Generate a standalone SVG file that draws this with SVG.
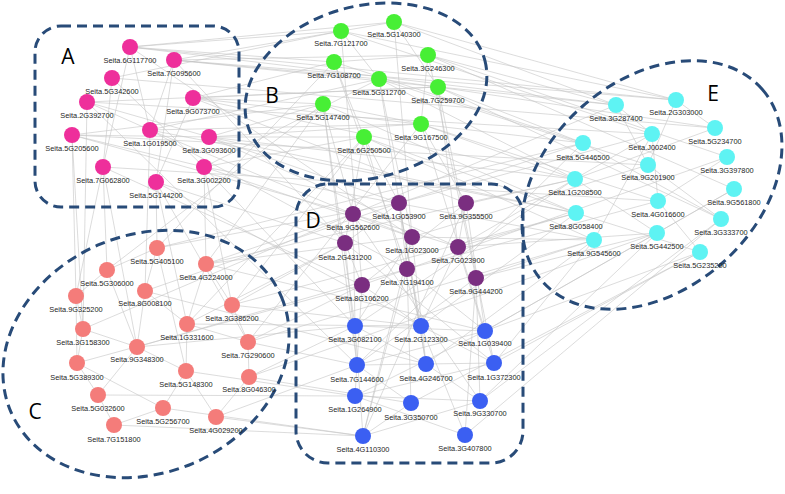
<svg xmlns="http://www.w3.org/2000/svg" width="785" height="494" viewBox="0 0 785 494">
<style>
.e{stroke:#c4c4c4;stroke-width:0.6;fill:none}
.grp{fill:none;stroke:#284b78;stroke-width:3;stroke-dasharray:10 6}
.pa{fill:#ee2f9b}.pb{fill:#47ef35}.pe{fill:#5ef3f3}.pd{fill:#7a2e80}.pf{fill:#3b5ff2}.pc{fill:#f47c7a}
text.l{font-family:"Liberation Sans",Arial,sans-serif;font-size:7.4px;fill:#1e1e1e;text-anchor:middle}
text.g{font-family:"Open Sans","Liberation Sans",sans-serif;font-size:21px;fill:#000;text-anchor:middle}
</style>
<rect width="785" height="494" fill="#fff"/>
<g id="connectors">
<path class="e" d="M130 47L150 130"/><path class="e" d="M174 60L150 130"/><path class="e" d="M112 78L103 167"/><path class="e" d="M87 102L209 137"/><path class="e" d="M72 135L204 167"/><path class="e" d="M193 98L156 182"/><path class="e" d="M174 60L156 182"/><path class="e" d="M130 47L103 167"/><path class="e" d="M87 102L150 130"/><path class="e" d="M72 135L209 137"/><path class="e" d="M112 78L204 167"/>
<path class="e" d="M130 47L341 31"/><path class="e" d="M130 47L334 62"/><path class="e" d="M174 60L394 22"/><path class="e" d="M174 60L379 79"/><path class="e" d="M193 98L323 104"/><path class="e" d="M193 98L334 62"/><path class="e" d="M150 130L379 79"/><path class="e" d="M209 137L323 104"/><path class="e" d="M209 137L364 137"/><path class="e" d="M204 167L364 137"/><path class="e" d="M87 102L438 87"/><path class="e" d="M72 135L323 104"/><path class="e" d="M112 78L341 31"/><path class="e" d="M150 130L421 124"/><path class="e" d="M204 167L379 79"/>
<path class="e" d="M130 47L616 105"/><path class="e" d="M174 60L676 100"/><path class="e" d="M193 98L583 143"/><path class="e" d="M87 102L652 134"/><path class="e" d="M209 137L575 179"/><path class="e" d="M72 135L648 165"/><path class="e" d="M150 130L576 213"/><path class="e" d="M204 167L594 240"/><path class="e" d="M112 78L715 128"/><path class="e" d="M103 167L658 201"/>
<path class="e" d="M150 130L353 214"/><path class="e" d="M209 137L399 203"/><path class="e" d="M204 167L412 237"/><path class="e" d="M156 182L345 243"/><path class="e" d="M103 167L362 285"/><path class="e" d="M72 135L353 214"/><path class="e" d="M193 98L466 203"/><path class="e" d="M204 167L355 326"/><path class="e" d="M156 182L421 326"/><path class="e" d="M150 130L407 269"/><path class="e" d="M209 137L458 247"/><path class="e" d="M87 102L357 365"/><path class="e" d="M130 47L412 237"/><path class="e" d="M174 60L345 243"/>
<path class="e" d="M103 167L107 270"/><path class="e" d="M156 182L157 248"/><path class="e" d="M72 135L76 296"/><path class="e" d="M204 167L206 264"/><path class="e" d="M150 130L145 291"/><path class="e" d="M103 167L137 347"/><path class="e" d="M156 182L187 324"/><path class="e" d="M72 135L83 329"/>
<path class="e" d="M341 31L379 79"/><path class="e" d="M334 62L364 137"/><path class="e" d="M428 55L421 124"/><path class="e" d="M394 22L438 87"/><path class="e" d="M323 104L421 124"/><path class="e" d="M379 79L438 87"/><path class="e" d="M334 62L428 55"/>
<path class="e" d="M394 22L676 100"/><path class="e" d="M428 55L616 105"/><path class="e" d="M438 87L583 143"/><path class="e" d="M421 124L575 179"/><path class="e" d="M379 79L648 165"/><path class="e" d="M341 31L652 134"/><path class="e" d="M323 104L576 213"/><path class="e" d="M364 137L594 240"/><path class="e" d="M438 87L715 128"/><path class="e" d="M428 55L727 157"/><path class="e" d="M421 124L658 201"/>
<path class="e" d="M323 104L353 214"/><path class="e" d="M364 137L399 203"/><path class="e" d="M421 124L466 203"/><path class="e" d="M438 87L458 247"/><path class="e" d="M379 79L412 237"/><path class="e" d="M364 137L345 243"/><path class="e" d="M334 62L407 269"/><path class="e" d="M323 104L355 326"/><path class="e" d="M421 124L485 331"/><path class="e" d="M364 137L421 326"/><path class="e" d="M428 55L476 278"/><path class="e" d="M438 87L494 363"/><path class="e" d="M341 31L362 285"/><path class="e" d="M394 22L412 237"/><path class="e" d="M379 79L426 364"/><path class="e" d="M323 104L357 365"/>
<path class="e" d="M323 104L206 264"/><path class="e" d="M364 137L232 305"/><path class="e" d="M334 62L157 248"/><path class="e" d="M421 124L248 342"/><path class="e" d="M364 137L187 324"/>
<path class="e" d="M616 105L648 165"/><path class="e" d="M676 100L715 128"/><path class="e" d="M652 134L658 201"/><path class="e" d="M583 143L721 219"/><path class="e" d="M575 179L657 233"/><path class="e" d="M648 165L721 219"/><path class="e" d="M576 213L700 252"/><path class="e" d="M727 157L658 201"/><path class="e" d="M734 189L657 233"/><path class="e" d="M715 128L575 179"/><path class="e" d="M652 134L594 240"/><path class="e" d="M676 100L648 165"/><path class="e" d="M616 105L652 134"/><path class="e" d="M658 201L700 252"/>
<path class="e" d="M575 179L466 203"/><path class="e" d="M576 213L458 247"/><path class="e" d="M594 240L476 278"/><path class="e" d="M583 143L399 203"/><path class="e" d="M648 165L412 237"/><path class="e" d="M657 233L485 331"/><path class="e" d="M700 252L494 363"/><path class="e" d="M721 219L480 401"/><path class="e" d="M658 201L407 269"/><path class="e" d="M576 213L421 326"/><path class="e" d="M594 240L426 364"/><path class="e" d="M575 179L355 326"/><path class="e" d="M616 105L353 214"/><path class="e" d="M652 134L458 247"/><path class="e" d="M734 189L485 331"/><path class="e" d="M657 233L476 278"/><path class="e" d="M727 157L362 285"/><path class="e" d="M721 219L465 435"/><path class="e" d="M700 252L411 403"/><path class="e" d="M583 143L357 365"/>
<path class="e" d="M575 179L206 264"/><path class="e" d="M576 213L232 305"/><path class="e" d="M594 240L248 342"/><path class="e" d="M583 143L157 248"/><path class="e" d="M657 233L249 377"/>
<path class="e" d="M353 214L412 237"/><path class="e" d="M399 203L407 269"/><path class="e" d="M466 203L458 247"/><path class="e" d="M345 243L362 285"/><path class="e" d="M353 214L355 326"/><path class="e" d="M399 203L421 326"/><path class="e" d="M466 203L485 331"/><path class="e" d="M412 237L426 364"/><path class="e" d="M345 243L357 365"/><path class="e" d="M458 247L494 363"/><path class="e" d="M407 269L411 403"/><path class="e" d="M476 278L480 401"/><path class="e" d="M362 285L355 396"/><path class="e" d="M399 203L426 364"/><path class="e" d="M412 237L355 326"/><path class="e" d="M458 247L421 326"/><path class="e" d="M407 269L363 436"/><path class="e" d="M476 278L465 435"/><path class="e" d="M362 285L421 326"/><path class="e" d="M355 326L426 364"/><path class="e" d="M421 326L494 363"/><path class="e" d="M485 331L357 365"/><path class="e" d="M357 365L411 403"/><path class="e" d="M426 364L480 401"/><path class="e" d="M494 363L355 396"/><path class="e" d="M355 396L465 435"/><path class="e" d="M411 403L363 436"/><path class="e" d="M480 401L363 436"/><path class="e" d="M355 326L363 436"/><path class="e" d="M421 326L465 435"/><path class="e" d="M485 331L355 396"/><path class="e" d="M466 203L363 436"/><path class="e" d="M353 214L480 401"/><path class="e" d="M345 243L494 363"/><path class="e" d="M476 278L357 365"/><path class="e" d="M412 237L363 436"/><path class="e" d="M407 269L485 331"/><path class="e" d="M399 203L345 243"/><path class="e" d="M466 203L362 285"/><path class="e" d="M458 247L353 214"/><path class="e" d="M355 326L485 331"/><path class="e" d="M357 365L494 363"/><path class="e" d="M355 396L480 401"/>
<path class="e" d="M206 264L353 214"/><path class="e" d="M232 305L345 243"/><path class="e" d="M248 342L362 285"/><path class="e" d="M249 377L355 326"/><path class="e" d="M216 417L357 365"/><path class="e" d="M186 371L355 396"/><path class="e" d="M187 324L345 243"/><path class="e" d="M163 408L363 436"/><path class="e" d="M145 291L399 203"/><path class="e" d="M157 248L399 203"/><path class="e" d="M137 347L355 326"/><path class="e" d="M249 377L411 403"/><path class="e" d="M248 342L357 365"/><path class="e" d="M232 305L421 326"/><path class="e" d="M216 417L363 436"/><path class="e" d="M206 264L485 331"/><path class="e" d="M114 425L363 436"/><path class="e" d="M98 395L355 396"/><path class="e" d="M77 363L362 285"/><path class="e" d="M83 329L353 214"/>
<path class="e" d="M157 248L145 291"/><path class="e" d="M206 264L232 305"/><path class="e" d="M107 270L76 296"/><path class="e" d="M145 291L137 347"/><path class="e" d="M76 296L83 329"/><path class="e" d="M187 324L186 371"/><path class="e" d="M137 347L98 395"/><path class="e" d="M248 342L249 377"/><path class="e" d="M77 363L98 395"/><path class="e" d="M186 371L163 408"/><path class="e" d="M249 377L216 417"/><path class="e" d="M98 395L114 425"/><path class="e" d="M107 270L137 347"/><path class="e" d="M83 329L77 363"/><path class="e" d="M145 291L187 324"/><path class="e" d="M137 347L186 371"/><path class="e" d="M163 408L114 425"/><path class="e" d="M232 305L248 342"/><path class="e" d="M187 324L248 342"/><path class="e" d="M77 363L163 408"/><path class="e" d="M157 248L107 270"/><path class="e" d="M206 264L187 324"/><path class="e" d="M83 329L137 347"/><path class="e" d="M186 371L216 417"/><path class="e" d="M76 296L77 363"/><path class="e" d="M157 248L186 371"/>
<path class="e" d="M130 47L394 22"/><path class="e" d="M174 60L428 55"/><path class="e" d="M193 98L438 87"/><path class="e" d="M209 137L421 124"/><path class="e" d="M174 60L616 105"/><path class="e" d="M130 47L676 100"/><path class="e" d="M193 98L575 179"/><path class="e" d="M209 137L576 213"/><path class="e" d="M394 22L616 105"/><path class="e" d="M341 31L676 100"/><path class="e" d="M334 62L583 143"/><path class="e" d="M379 79L575 179"/><path class="e" d="M364 137L576 213"/><path class="e" d="M438 87L721 219"/><path class="e" d="M428 55L734 189"/><path class="e" d="M399 203L652 134"/><path class="e" d="M412 237L594 240"/><path class="e" d="M458 247L657 233"/><path class="e" d="M485 331L700 252"/><path class="e" d="M494 363L594 240"/><path class="e" d="M480 401L657 233"/><path class="e" d="M145 291L426 364"/><path class="e" d="M187 324L421 326"/><path class="e" d="M206 264L412 237"/><path class="e" d="M137 347L407 269"/><path class="e" d="M107 270L323 104"/><path class="e" d="M76 296L103 167"/><path class="e" d="M83 329L87 102"/><path class="e" d="M204 167L232 305"/><path class="e" d="M156 182L248 342"/>
</g>
<g id="groups">
<g id="groupA"><rect class="grp" x="35" y="26" width="204" height="181" rx="26"/><text class="g" x="68" y="64">A</text></g>
<g id="groupB"><ellipse class="grp" cx="366" cy="92" rx="123" ry="86" transform="rotate(-15 366 92)"/><text class="g" x="272" y="103">B</text></g>
<g id="groupC"><ellipse class="grp" cx="146" cy="354" rx="147" ry="119" transform="rotate(-23 146 354)"/><text class="g" x="35" y="419">C</text></g>
<g id="groupD"><rect class="grp" x="296" y="184" width="227" height="279" rx="32"/><text class="g" x="313" y="228">D</text></g>
<g id="groupE"><ellipse class="grp" cx="652" cy="185" rx="146" ry="105" transform="rotate(-41 652 185)"/><text class="g" x="713" y="101">E</text></g>
</g>
<g id="nodes">
<g id="n_6G117700"><circle class="pa" cx="130" cy="47" r="8"/><text class="l" x="130" y="63">Seita.6G117700</text></g>
<g id="n_7G095600"><circle class="pa" cx="174" cy="60" r="8"/><text class="l" x="174" y="76">Seita.7G095600</text></g>
<g id="n_5G342600"><circle class="pa" cx="112" cy="78" r="8"/><text class="l" x="112" y="94">Seita.5G342600</text></g>
<g id="n_2G392700"><circle class="pa" cx="87" cy="102" r="8"/><text class="l" x="87" y="118">Seita.2G392700</text></g>
<g id="n_9G073700"><circle class="pa" cx="193" cy="98" r="8"/><text class="l" x="193" y="114">Seita.9G073700</text></g>
<g id="n_5G205600"><circle class="pa" cx="72" cy="135" r="8"/><text class="l" x="72" y="151">Seita.5G205600</text></g>
<g id="n_1G019500"><circle class="pa" cx="150" cy="130" r="8"/><text class="l" x="150" y="146">Seita.1G019500</text></g>
<g id="n_3G093600"><circle class="pa" cx="209" cy="137" r="8"/><text class="l" x="209" y="153">Seita.3G093600</text></g>
<g id="n_7G062800"><circle class="pa" cx="103" cy="167" r="8"/><text class="l" x="103" y="183">Seita.7G062800</text></g>
<g id="n_3G002200"><circle class="pa" cx="204" cy="167" r="8"/><text class="l" x="204" y="183">Seita.3G002200</text></g>
<g id="n_5G144200"><circle class="pa" cx="156" cy="182" r="8"/><text class="l" x="156" y="198">Seita.5G144200</text></g>

<g id="n_7G121700"><circle class="pb" cx="341" cy="31" r="8"/><text class="l" x="341" y="46">Seita.7G121700</text></g>
<g id="n_5G140300"><circle class="pb" cx="394" cy="22" r="8"/><text class="l" x="394" y="37">Seita.5G140300</text></g>
<g id="n_3G246300"><circle class="pb" cx="428" cy="55" r="8"/><text class="l" x="428" y="71">Seita.3G246300</text></g>
<g id="n_7G108700"><circle class="pb" cx="334" cy="62" r="8"/><text class="l" x="334" y="78">Seita.7G108700</text></g>
<g id="n_5G312700"><circle class="pb" cx="379" cy="79" r="8"/><text class="l" x="379" y="95">Seita.5G312700</text></g>
<g id="n_7G259700"><circle class="pb" cx="438" cy="87" r="8"/><text class="l" x="438" y="103">Seita.7G259700</text></g>
<g id="n_5G147400"><circle class="pb" cx="323" cy="104" r="8"/><text class="l" x="323" y="120">Seita.5G147400</text></g>
<g id="n_9G167500"><circle class="pb" cx="421" cy="124" r="8"/><text class="l" x="421" y="140">Seita.9G167500</text></g>
<g id="n_6G250500"><circle class="pb" cx="364" cy="137" r="8"/><text class="l" x="364" y="153">Seita.6G250500</text></g>

<g id="n_3G287400"><circle class="pe" cx="616" cy="105" r="8"/><text class="l" x="616" y="121">Seita.3G287400</text></g>
<g id="n_2G303000"><circle class="pe" cx="676" cy="100" r="8"/><text class="l" x="676" y="115">Seita.2G303000</text></g>
<g id="n_J002400"><circle class="pe" cx="652" cy="134" r="8"/><text class="l" x="652" y="150">Seita.J002400</text></g>
<g id="n_5G234700"><circle class="pe" cx="715" cy="128" r="8"/><text class="l" x="715" y="144">Seita.5G234700</text></g>
<g id="n_5G446500"><circle class="pe" cx="583" cy="143" r="8"/><text class="l" x="583" y="160">Seita.5G446500</text></g>
<g id="n_3G397800"><circle class="pe" cx="727" cy="157" r="8"/><text class="l" x="727" y="173">Seita.3G397800</text></g>
<g id="n_9G201900"><circle class="pe" cx="648" cy="165" r="8"/><text class="l" x="648" y="180">Seita.9G201900</text></g>
<g id="n_1G208500"><circle class="pe" cx="575" cy="179" r="8"/><text class="l" x="575" y="195">Seita.1G208500</text></g>
<g id="n_9G561800"><circle class="pe" cx="734" cy="189" r="8"/><text class="l" x="734" y="205">Seita.9G561800</text></g>
<g id="n_4G016600"><circle class="pe" cx="658" cy="201" r="8"/><text class="l" x="658" y="217">Seita.4G016600</text></g>
<g id="n_8G058400"><circle class="pe" cx="576" cy="213" r="8"/><text class="l" x="576" y="229">Seita.8G058400</text></g>
<g id="n_3G333700"><circle class="pe" cx="721" cy="219" r="8"/><text class="l" x="721" y="235">Seita.3G333700</text></g>
<g id="n_5G442500"><circle class="pe" cx="657" cy="233" r="8"/><text class="l" x="657" y="249">Seita.5G442500</text></g>
<g id="n_9G545600"><circle class="pe" cx="594" cy="240" r="8"/><text class="l" x="594" y="256">Seita.9G545600</text></g>
<g id="n_5G235200"><circle class="pe" cx="700" cy="252" r="8"/><text class="l" x="700" y="268">Seita.5G235200</text></g>

<g id="n_9G562600"><circle class="pd" cx="353" cy="214" r="8"/><text class="l" x="353" y="230">Seita.9G562600</text></g>
<g id="n_1G053900"><circle class="pd" cx="399" cy="203" r="8"/><text class="l" x="399" y="219">Seita.1G053900</text></g>
<g id="n_9G355500"><circle class="pd" cx="466" cy="203" r="8"/><text class="l" x="466" y="219">Seita.9G355500</text></g>
<g id="n_1G023000"><circle class="pd" cx="412" cy="237" r="8"/><text class="l" x="412" y="253">Seita.1G023000</text></g>
<g id="n_2G431200"><circle class="pd" cx="345" cy="243" r="8"/><text class="l" x="345" y="260">Seita.2G431200</text></g>
<g id="n_7G023900"><circle class="pd" cx="458" cy="247" r="8"/><text class="l" x="458" y="263">Seita.7G023900</text></g>
<g id="n_7G194100"><circle class="pd" cx="407" cy="269" r="8"/><text class="l" x="407" y="285">Seita.7G194100</text></g>
<g id="n_9G444200"><circle class="pd" cx="476" cy="278" r="8"/><text class="l" x="476" y="294">Seita.9G444200</text></g>
<g id="n_8G106200"><circle class="pd" cx="362" cy="285" r="8"/><text class="l" x="362" y="301">Seita.8G106200</text></g>

<g id="n_3G082100"><circle class="pf" cx="355" cy="326" r="8"/><text class="l" x="355" y="342">Seita.3G082100</text></g>
<g id="n_2G123300"><circle class="pf" cx="421" cy="326" r="8"/><text class="l" x="421" y="342">Seita.2G123300</text></g>
<g id="n_1G039400"><circle class="pf" cx="485" cy="331" r="8"/><text class="l" x="485" y="346">Seita.1G039400</text></g>
<g id="n_7G144600"><circle class="pf" cx="357" cy="365" r="8"/><text class="l" x="357" y="382">Seita.7G144600</text></g>
<g id="n_4G246700"><circle class="pf" cx="426" cy="364" r="8"/><text class="l" x="426" y="381">Seita.4G246700</text></g>
<g id="n_1G372300"><circle class="pf" cx="494" cy="363" r="8"/><text class="l" x="494" y="380">Seita.1G372300</text></g>
<g id="n_1G264900"><circle class="pf" cx="355" cy="396" r="8"/><text class="l" x="355" y="412">Seita.1G264900</text></g>
<g id="n_3G350700"><circle class="pf" cx="411" cy="403" r="8"/><text class="l" x="411" y="420">Seita.3G350700</text></g>
<g id="n_9G330700"><circle class="pf" cx="480" cy="401" r="8"/><text class="l" x="480" y="416">Seita.9G330700</text></g>
<g id="n_4G110300"><circle class="pf" cx="363" cy="436" r="8"/><text class="l" x="363" y="452">Seita.4G110300</text></g>
<g id="n_3G407800"><circle class="pf" cx="465" cy="435" r="8"/><text class="l" x="465" y="451">Seita.3G407800</text></g>

<g id="n_5G405100"><circle class="pc" cx="157" cy="248" r="8"/><text class="l" x="157" y="264">Seita.5G405100</text></g>
<g id="n_4G224000"><circle class="pc" cx="206" cy="264" r="8"/><text class="l" x="206" y="280">Seita.4G224000</text></g>
<g id="n_5G306000"><circle class="pc" cx="107" cy="270" r="8"/><text class="l" x="107" y="286">Seita.5G306000</text></g>
<g id="n_8G008100"><circle class="pc" cx="145" cy="291" r="8"/><text class="l" x="145" y="306">Seita.8G008100</text></g>
<g id="n_9G325200"><circle class="pc" cx="76" cy="296" r="8"/><text class="l" x="76" y="312">Seita.9G325200</text></g>
<g id="n_3G386200"><circle class="pc" cx="232" cy="305" r="8"/><text class="l" x="232" y="321">Seita.3G386200</text></g>
<g id="n_1G331600"><circle class="pc" cx="187" cy="324" r="8"/><text class="l" x="187" y="340">Seita.1G331600</text></g>
<g id="n_3G158300"><circle class="pc" cx="83" cy="329" r="8"/><text class="l" x="83" y="345">Seita.3G158300</text></g>
<g id="n_9G348300"><circle class="pc" cx="137" cy="347" r="8"/><text class="l" x="137" y="362">Seita.9G348300</text></g>
<g id="n_7G290600"><circle class="pc" cx="248" cy="342" r="8"/><text class="l" x="248" y="358">Seita.7G290600</text></g>
<g id="n_5G389300"><circle class="pc" cx="77" cy="363" r="8"/><text class="l" x="77" y="380">Seita.5G389300</text></g>
<g id="n_5G148300"><circle class="pc" cx="186" cy="371" r="8"/><text class="l" x="186" y="387">Seita.5G148300</text></g>
<g id="n_8G046300"><circle class="pc" cx="249" cy="377" r="8"/><text class="l" x="249" y="392">Seita.8G046300</text></g>
<g id="n_5G032600"><circle class="pc" cx="98" cy="395" r="8"/><text class="l" x="98" y="411">Seita.5G032600</text></g>
<g id="n_5G256700"><circle class="pc" cx="163" cy="408" r="8"/><text class="l" x="163" y="424">Seita.5G256700</text></g>
<g id="n_4G029200"><circle class="pc" cx="216" cy="417" r="8"/><text class="l" x="216" y="433">Seita.4G029200</text></g>
<g id="n_7G151800"><circle class="pc" cx="114" cy="425" r="8"/><text class="l" x="114" y="442">Seita.7G151800</text></g>
</g>
</svg>
